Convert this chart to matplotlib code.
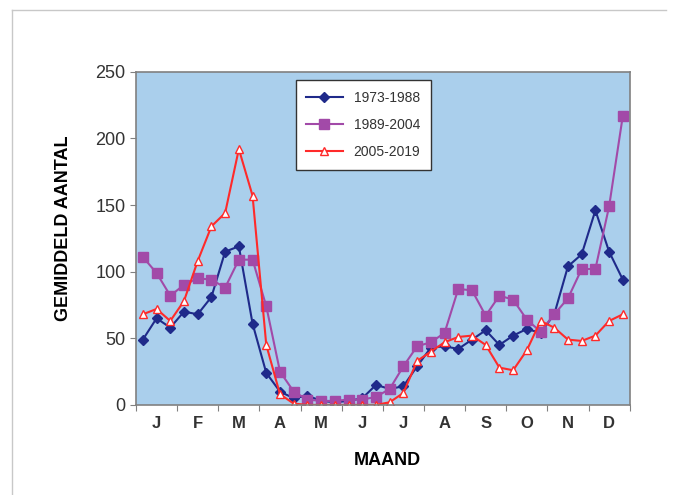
import numpy as np
import matplotlib
matplotlib.use("Agg")
import matplotlib.pyplot as plt
from matplotlib.lines import Line2D

plt.rcParams['font.family'] = ['Liberation Sans', 'DejaVu Sans']

maanden = ['J', 'F', 'M', 'A', 'M', 'J', 'J', 'A', 'S', 'O', 'N', 'D']

# drie waarden per maand (decaden)
p1973_1988 = [49, 65, 58, 70, 68, 81, 115, 119, 61, 24, 10, 5,
              7, 3, 2, 3, 5, 15, 12, 14, 29, 43, 44, 42,
              49, 56, 45, 52, 57, 54, 68, 104, 113, 146, 115, 94]
p1989_2004 = [111, 99, 82, 90, 95, 94, 88, 109, 109, 74, 25, 10,
              4, 3, 3, 4, 4, 6, 12, 29, 44, 47, 54, 87,
              86, 67, 82, 79, 64, 55, 68, 80, 102, 102, 149, 217]
p2005_2019 = [68, 72, 63, 78, 108, 134, 144, 192, 157, 45, 8, 1,
              0, 0, 0, 0, 0, 0, 2, 9, 33, 40, 47, 51,
              52, 45, 28, 26, 41, 63, 58, 49, 48, 52, 63, 68]

x = np.arange(len(p1973_1988)) + 0.5

fig = plt.figure(figsize=(6.8, 4.95), dpi=100)
ax = fig.add_axes([0.2, 0.182, 0.726, 0.673])
ax.set_facecolor('#aacfec')

ax.plot(x, p1973_1988, color='#1f2a8a', marker='D', markersize=5, lw=1.5, label='1973-1988')
ax.plot(x, p1989_2004, color='#a24aa8', marker='s', markersize=7, lw=1.5, label='1989-2004')
ax.plot(x, p2005_2019, color='#ff2a2a', marker='^', markersize=6, lw=1.5,
        markerfacecolor='white', markeredgecolor='#ff2a2a', label='2005-2019')

ax.set_xlim(0, 36)
ax.set_ylim(0, 250)
ax.set_yticks(range(0, 251, 50))
ax.set_xticks(np.arange(0, 37, 3))
ax.set_xticklabels([])
ax.set_xticks(np.arange(1.5, 36, 3), minor=True)
ax.set_xticklabels(maanden, minor=True, fontsize=12, color='#333333', fontweight='bold')
ax.tick_params(axis='x', which='minor', length=0, pad=8)
ax.tick_params(axis='x', which='major', length=4, color='#808080')
ax.tick_params(axis='y', length=4, color='#808080', labelsize=13, labelcolor='#333333')

for s in ax.spines.values():
    s.set_color('#808080')
    s.set_linewidth(1.2)

ax.set_xlabel('MAAND', fontsize=13, fontweight='bold')
ax.xaxis.set_label_coords(0.51, -0.14)
ax.set_ylabel('GEMIDDELD AANTAL', fontsize=13, fontweight='bold')
ax.yaxis.set_label_coords(-0.13, 0.53)

leg = ax.legend(loc='upper left', bbox_to_anchor=(0.31, 0.995), fontsize=10,
                labelspacing=0.95, handlelength=2.6, borderpad=0.75,
                fancybox=False, framealpha=1, edgecolor='#333333')
leg.get_frame().set_linewidth(1.0)
for t in leg.get_texts():
    t.set_color('#333333')

# dunne grijze rand van de figuur
fig.add_artist(Line2D([0.018, 0.98], [0.98, 0.98], color='#c8c8c8', lw=1))
fig.add_artist(Line2D([0.018, 0.018], [0.0, 0.98], color='#c8c8c8', lw=1))

fig.savefig('out.png', dpi=100)
